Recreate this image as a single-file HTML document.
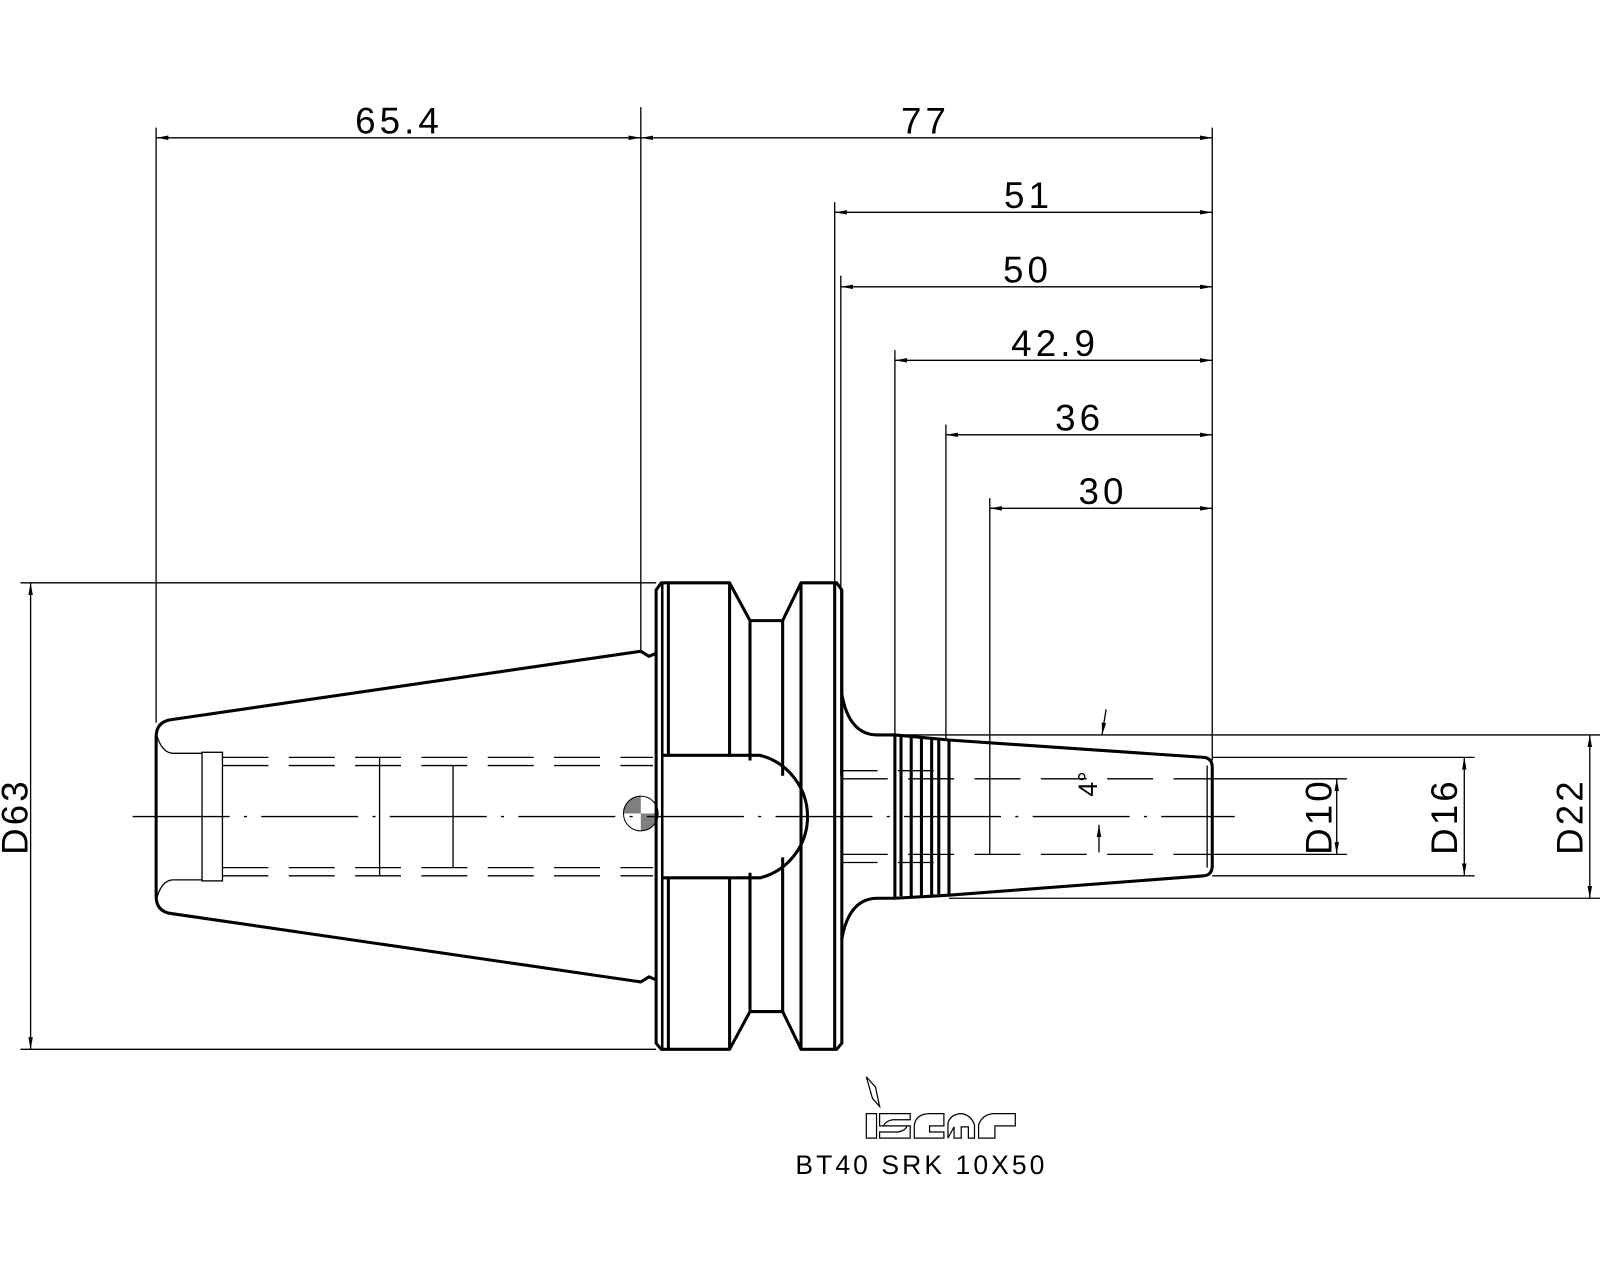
<!DOCTYPE html>
<html><head><meta charset="utf-8"><style>
html,body{margin:0;padding:0;background:#fff;width:1600px;height:1280px;overflow:hidden}
svg{display:block}
text{font-family:"Liberation Sans",sans-serif;fill:#000}
</style></head><body>
<svg width="1600" height="1280" viewBox="0 0 1568 1254" preserveAspectRatio="none" xmlns="http://www.w3.org/2000/svg">
<defs>
<marker id="a" viewBox="0 0 12 6" refX="12" refY="3" markerWidth="12" markerHeight="6" orient="auto-start-reverse" markerUnits="userSpaceOnUse"><path d="M0,0.8 L12,3 L0,5.2 Z" fill="#000"/></marker>
</defs>
<g stroke="#000" stroke-width="1.3" fill="none">
<line x1="153" y1="125" x2="153" y2="708"/>
<line x1="628" y1="105" x2="628" y2="640"/>
<line x1="1188" y1="125" x2="1188" y2="745"/>
<line x1="818" y1="198" x2="818" y2="760"/>
<line x1="824" y1="270" x2="824" y2="760"/>
<line x1="877" y1="343" x2="877" y2="722"/>
<line x1="927" y1="416" x2="927" y2="725"/>
<line x1="970" y1="488" x2="970" y2="837"/>
<line x1="153" y1="135" x2="628" y2="135" marker-start="url(#a)" marker-end="url(#a)"/>
<line x1="628" y1="135" x2="1188" y2="135" marker-start="url(#a)" marker-end="url(#a)"/>
<line x1="818" y1="208" x2="1188" y2="208" marker-start="url(#a)" marker-end="url(#a)"/>
<line x1="824" y1="281" x2="1188" y2="281" marker-start="url(#a)" marker-end="url(#a)"/>
<line x1="877" y1="353" x2="1188" y2="353" marker-start="url(#a)" marker-end="url(#a)"/>
<line x1="927" y1="426" x2="1188" y2="426" marker-start="url(#a)" marker-end="url(#a)"/>
<line x1="970" y1="498" x2="1188" y2="498" marker-start="url(#a)" marker-end="url(#a)"/>
<line x1="20" y1="571" x2="643" y2="571"/>
<line x1="20" y1="1028" x2="643" y2="1028"/>
<line x1="30" y1="571" x2="30" y2="1028" marker-start="url(#a)" marker-end="url(#a)"/>
<line x1="877" y1="720" x2="1568" y2="720"/>
<line x1="930" y1="880" x2="1568" y2="880"/>
<line x1="1558" y1="720" x2="1558" y2="880" marker-start="url(#a)" marker-end="url(#a)"/>
<line x1="1188" y1="742" x2="1445" y2="742"/>
<line x1="1188" y1="858" x2="1445" y2="858"/>
<line x1="1435" y1="742" x2="1435" y2="858" marker-start="url(#a)" marker-end="url(#a)"/>
<line x1="1188" y1="763" x2="1320" y2="763"/>
<line x1="1188" y1="837" x2="1320" y2="837"/>
<line x1="1310" y1="763" x2="1310" y2="837" marker-start="url(#a)" marker-end="url(#a)"/>
<line x1="130" y1="800" x2="1210" y2="800" stroke-dasharray="95,14,3,14"/>
<rect x="198" y="737" width="20" height="126"/>
<line x1="218" y1="742" x2="640" y2="742" stroke-dasharray="45,20"/>
<line x1="218" y1="750" x2="640" y2="750" stroke-dasharray="45,20"/>
<line x1="218" y1="850" x2="640" y2="850" stroke-dasharray="45,20"/>
<line x1="218" y1="858" x2="640" y2="858" stroke-dasharray="45,20"/>
<line x1="372" y1="742" x2="372" y2="858"/>
<line x1="444" y1="750" x2="444" y2="850"/>
<path d="M153,718 Q158,738 170,738 L198,738 M153,882 Q158,862 170,862 L198,862"/>
<line x1="825" y1="763" x2="1188" y2="763" stroke-dasharray="45,20"/>
<line x1="825" y1="837" x2="1188" y2="837" stroke-dasharray="45,20"/>
<line x1="825" y1="755" x2="920" y2="755" stroke-dasharray="35,20"/>
<line x1="825" y1="845" x2="920" y2="845" stroke-dasharray="35,20"/>
<line x1="920" y1="755" x2="920" y2="845"/>
<line x1="1183" y1="750" x2="1183" y2="850"/>
<circle cx="628" cy="797" r="17" stroke-width="1"/>
<line x1="1084" y1="695" x2="1080" y2="720" marker-end="url(#a)"/>
<line x1="1077" y1="835" x2="1077" y2="808" marker-end="url(#a)"/>
</g>
<g fill="#000" opacity="0.5"><path d="M611,797 a17,17 0 0 1 17,-17 v17 z M628,797 h17 a17,17 0 0 1 -17,17 z"/></g>
<g stroke="#000" stroke-width="3" fill="none" stroke-linejoin="round">
<path d="M168,705 L628,638 L636,643 L643,640"/>
<path d="M168,895 L628,962 L636,957 L643,960"/>
<path d="M168,705 Q153,707 153,722 L153,878 Q153,893 168,895"/>
<path d="M648,571 L715,571 L735,608 L767,608 L785,571 L820,571 L825,578 L825,1022 L820,1028 L785,1028 L767,991 L735,991 L715,1028 L648,1028 L643,1022 L643,578 Z"/>
<line x1="649" y1="571" x2="649" y2="1028" stroke-width="2.5"/>
<path d="M655,571 V740 M655,860 V1028"/>
<path d="M715,571 V740 M715,860 V1028"/>
<path d="M735,608 V745 M735,855 V991"/>
<path d="M767,608 V760 M767,840 V991"/>
<path d="M785,571 V1028"/>
<path d="M818,571 V1028"/>
<path d="M649,740 L745,740 A62,62 0 0 1 745,860 L649,860"/>
<path d="M825,680 Q832,720 860,720 L877,720"/>
<path d="M825,920 Q832,880 860,880 L877,880"/>
<path d="M877,720 V880 M883,722 V878 M893,722 V878 M903,722 V878 M913,722 V878 M920,724 V876 M930,725 V877"/>
<path d="M877,720 L930,725 L1180,742 Q1188,743 1188,752 L1188,848 Q1188,857 1180,858 L930,877 L877,880"/>
</g>
<g font-size="36">
<text x="391" y="131" text-anchor="middle" letter-spacing="4">65.4</text>
<text x="907" y="131" text-anchor="middle" letter-spacing="4">77</text>
<text x="1008" y="204" text-anchor="middle" letter-spacing="4">51</text>
<text x="1007" y="277" text-anchor="middle" letter-spacing="4">50</text>
<text x="1034" y="349" text-anchor="middle" letter-spacing="4">42.9</text>
<text x="1058" y="422" text-anchor="middle" letter-spacing="4">36</text>
<text x="1081" y="494" text-anchor="middle" letter-spacing="4">30</text>
<text transform="translate(27,800) rotate(-90)" text-anchor="middle" letter-spacing="3">D63</text>
<text transform="translate(1551,800) rotate(-90)" text-anchor="middle" letter-spacing="3">D22</text>
<text transform="translate(1428,800) rotate(-90)" text-anchor="middle" letter-spacing="3">D16</text>
<text transform="translate(1305,800) rotate(-90)" text-anchor="middle" letter-spacing="3">D10</text>
<text transform="translate(1075,768) rotate(-90)" text-anchor="middle" font-size="26">4°</text>
</g>
<g stroke="#000" stroke-width="1.2" fill="none">
<path d="M849,1055 L858,1065 L862,1084 L855,1076 Z"/>
<rect x="849" y="1091" width="10" height="24"/>
<path d="M862,1091 H892 V1097 H875 Q868,1098 866,1103 H892 V1115 H862 V1109 H880 Q887,1108 889,1103 H862 Z"/>
<path d="M896,1115 V1103 Q897,1091 912,1091 H925 V1103 H911 V1109 H925 V1115 Z"/>
<path d="M929,1115 V1100 Q932,1091 943,1091 Q952,1093 955,1102 V1115 H949 V1104 H942 V1115 H935 V1104 Z"/>
<path d="M959,1115 V1102 Q963,1091 975,1091 H995 V1103 H975 V1115 Z"/>
</g>
<text x="903" y="1150" text-anchor="middle" font-size="26" letter-spacing="3">BT40  SRK  10X50</text>
</svg>
</body></html>
